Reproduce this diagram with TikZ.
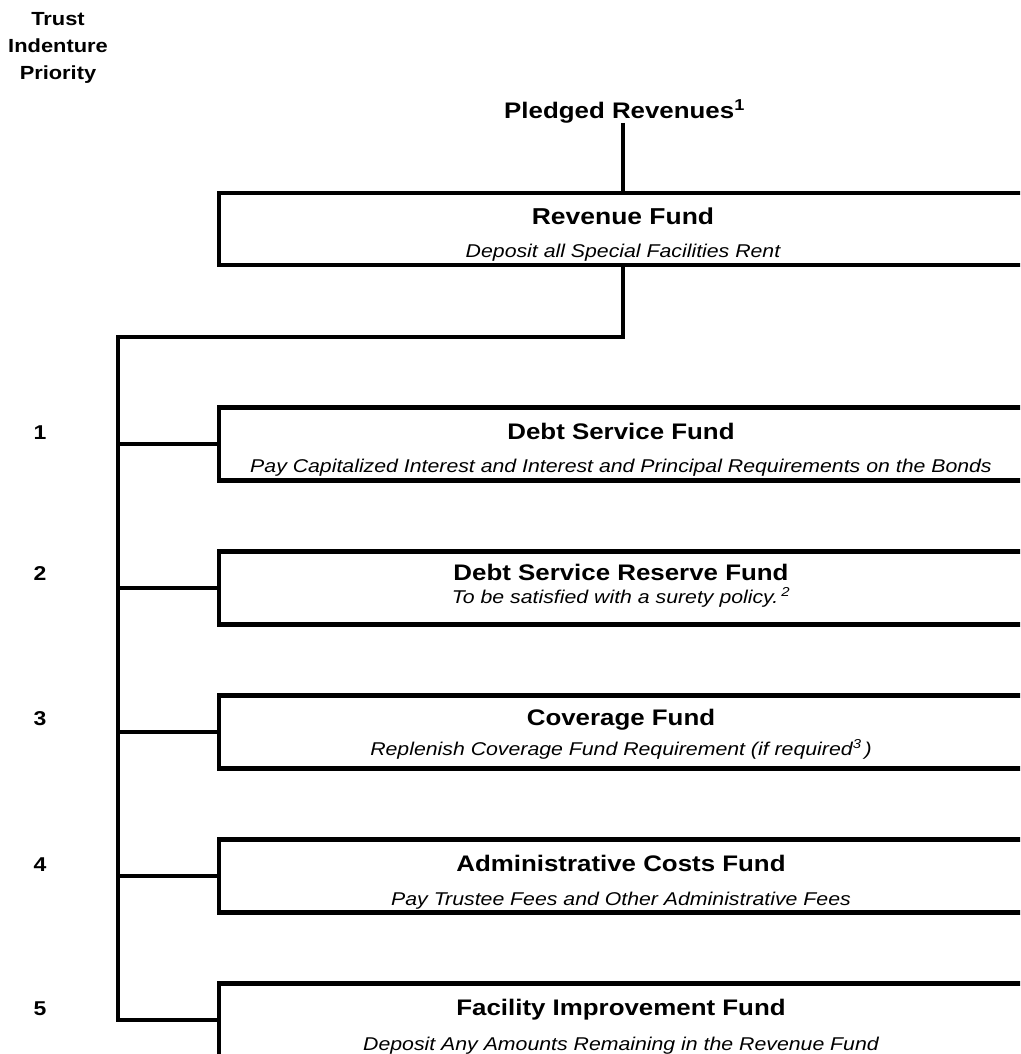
\documentclass[tikz,border=0pt]{standalone}
\usepackage{fontspec}
\setmainfont{Liberation Sans}[FakeStretch=1.15]
\begin{document}
\begin{tikzpicture}[x=1pt,y=-1pt,
  fund/.style={draw, line width=4.2pt, minimum width=900pt, minimum height=73pt, inner sep=0pt, anchor=west},
  conn/.style={line width=4.2pt},
  ttl/.style={font=\bfseries\fontsize{22.5}{26}\selectfont, anchor=base, inner sep=0pt},
  subt/.style={font=\itshape\fontsize{18.5}{22}\selectfont, anchor=base, inner sep=0pt},
  num/.style={font=\bfseries\fontsize{20}{24}\selectfont, anchor=base, inner sep=0pt},
  hdr/.style={font=\bfseries\fontsize{19}{24}\selectfont, anchor=base, inner sep=0pt}]
\useasboundingbox (0,0) rectangle (1020,1054);
\clip (0,0) rectangle (1020,1054);

% header
\node[hdr] (h1) at (58,26) {Trust};
\node[hdr] (h2) at (58,53) {Indenture};
\node[hdr] (h3) at (58,80) {Priority};

% pledged revenues
\node[font=\bfseries\fontsize{22.5}{26}\selectfont, anchor=base west, inner sep=0pt] (pledged) at (504,118) {Pledged Revenues\textsuperscript{1}};

% boxes
\node[fund, minimum height=72pt] (rev) at (217,229) {};
\node[fund] (f1) at (217,444) {};
\node[fund] (f2) at (217,588) {};
\node[fund] (f3) at (217,732) {};
\node[fund] (f4) at (217,876) {};
\node[fund] (f5) at (217,1020) {};

% titles and descriptions
\node[ttl, font=\bfseries\fontsize{23}{26}\selectfont] (revt) at (623,224) {Revenue Fund};
\node[subt] (revs) at (623,257) {Deposit all Special Facilities Rent};

\node[ttl] (t1) at (621,439) {Debt Service Fund};
\node[subt] (s1) at (621,472) {Pay Capitalized Interest and Interest and Principal Requirements on the Bonds};

\node[ttl] (t2) at (621,580) {Debt Service Reserve Fund};
\node[subt] (s2) at (621,603) {To be satisfied with a surety policy.\,\textsuperscript{2}};

\node[ttl] (t3) at (621,725) {Coverage Fund};
\node[subt] (s3) at (621,755) {Replenish Coverage Fund Requirement (if required\textsuperscript{3}\,)};

\node[ttl] (t4) at (621,871) {Administrative Costs Fund};
\node[subt] (s4) at (621,905) {Pay Trustee Fees and Other Administrative Fees};

\node[ttl] (t5) at (621,1015) {Facility Improvement Fund};
\node[subt] (s5) at (621,1050) {Deposit Any Amounts Remaining in the Revenue Fund};

% priority numbers
\node[num] (n1) at (40,439) {1};
\node[num] (n2) at (40,580) {2};
\node[num] (n3) at (40,725) {3};
\node[num] (n4) at (40,871) {4};
\node[num] (n5) at (40,1015) {5};

% connectors
\coordinate (colx) at (623,0);
\coordinate (split) at (623,337);
\coordinate (bus) at (118,337);
\draw[conn] (pledged.south -| colx) -- (rev.north -| colx);
\draw[conn] (rev.south -| colx) -- (split) -- (bus) |- (f5.west);
\foreach \f in {f1,f2,f3,f4}{
  \draw[conn] (bus |- \f.west) -- (\f.west);
}
\end{tikzpicture}
\end{document}
